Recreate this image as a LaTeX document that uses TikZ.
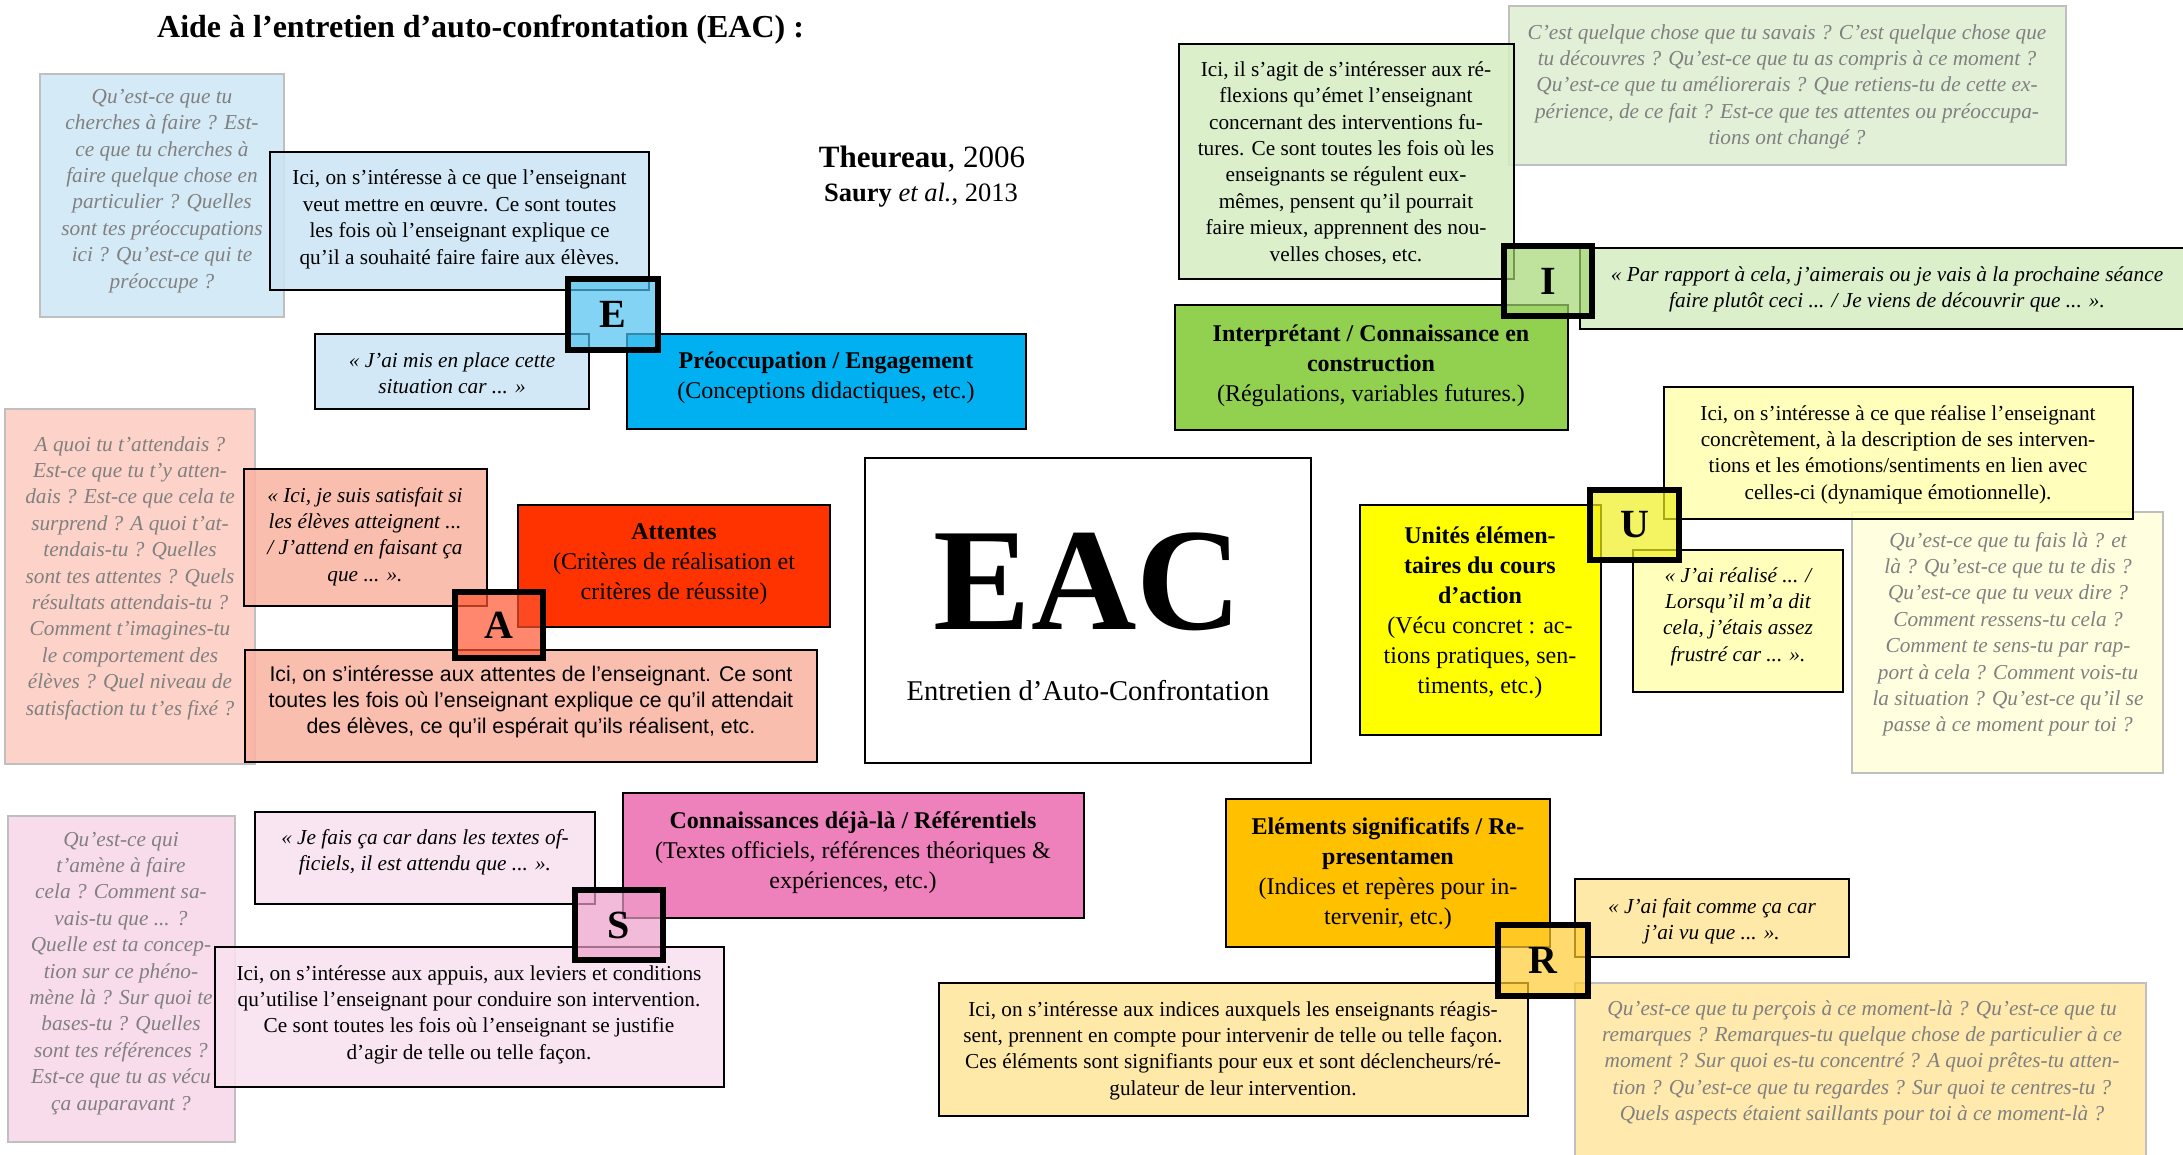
\documentclass[tikz,border=0pt]{standalone}
\usepackage{fontspec}
\setmainfont{Liberation Serif}
\newfontfamily\sansf{Liberation Sans}
\definecolor{eH}{HTML}{00B0F0}
\definecolor{eD}{HTML}{CCE4F5}
\definecolor{eQ}{HTML}{D5EAF7}
\definecolor{eS}{HTML}{4FC3F0}
\definecolor{iH}{HTML}{92D050}
\definecolor{iD}{HTML}{D5EDC2}
\definecolor{iQ}{HTML}{E2F0D8}
\definecolor{iS}{HTML}{A5D872}
\definecolor{uH}{HTML}{FFFF00}
\definecolor{uD}{HTML}{FFFFB0}
\definecolor{uQ}{HTML}{FFFFE0}
\definecolor{uS}{HTML}{F0F020}
\definecolor{aH}{HTML}{FF3300}
\definecolor{aD}{HTML}{FAB3A2}
\definecolor{aQ}{HTML}{FDD3C9}
\definecolor{aS}{HTML}{FF5530}
\definecolor{sH}{HTML}{EE80BB}
\definecolor{sD}{HTML}{F9E1EF}
\definecolor{sQ}{HTML}{F9DCEC}
\definecolor{sS}{HTML}{EE9FCB}
\definecolor{rH}{HTML}{FFC000}
\definecolor{rD}{HTML}{FFE699}
\definecolor{rQ}{HTML}{FFE9AD}
\definecolor{rS}{HTML}{FFCC33}
\definecolor{qline}{HTML}{BFBFBF}
\definecolor{qgray}{HTML}{808080}
\tikzset{
  rect/.style={anchor=north west, inner sep=0pt, outer sep=0pt},
  bbox/.style={rect, draw=black, line width=2.2pt},
  qbox/.style={rect, draw=qline, line width=1.5pt},
  tbox/.style={rect, draw=black, line width=2.2pt, fill opacity=0.85},
  sqbox/.style={rect, draw=black, line width=6pt, fill opacity=0.7},
  txt/.style={anchor=base, align=center, inner sep=0pt, yshift=-2pt, font=\fontsize{21.3}{26.4}\selectfont},
  qtxt/.style={txt, text=qgray, font=\fontsize{21.3}{26.4}\selectfont\itshape},
  itxt/.style={txt, font=\fontsize{21.3}{26.4}\selectfont\itshape},
  htxt/.style={txt, font=\fontsize{24}{30}\selectfont},
  letter/.style={inner sep=0pt, font=\fontsize{40}{40}\selectfont\bfseries},
}
\begin{document}
\begin{tikzpicture}[x=1pt,y=-1pt]
\useasboundingbox (0,0) rectangle (2183,1154);
\fill[white] (0,0) rectangle (2183,1154);

% title (anchor=base of a multi-line node = baseline of its last line)
\node[anchor=base west, inner sep=0pt, font=\fontsize{32}{36}\selectfont\bfseries] (title) at (157,37) {Aide à l’entretien d’auto-confrontation (EAC) :};
\node[anchor=base, inner sep=0pt, font=\fontsize{31}{36}\selectfont] (ref1) at (922,167) {\textbf{Theureau}, 2006};
\node[anchor=base, inner sep=0pt, font=\fontsize{26.5}{30}\selectfont] (ref2) at (921,201) {\textbf{Saury} \textit{et al.}, 2013};

% ===== E =====
\node[qbox, fill=eQ, minimum width=244pt, minimum height=243pt] (Eq) at (40,74) {};
\node[qtxt] (Eqt) at (162,286) {Qu’est-ce que tu\\cherches à faire ? Est-\\ce que tu cherches à\\faire quelque chose en\\particulier ? Quelles\\sont tes préoccupations\\ici ? Qu’est-ce qui te\\préoccupe ?};
\node[bbox, fill=eH, minimum width=399pt, minimum height=95pt] (Eh) at (627,334) {};
\node[htxt] (Eht) at (826,396) {\textbf{Préoccupation / Engagement}\\(Conceptions didactiques, etc.)};
\node[tbox, fill=eD, minimum width=274pt, minimum height=75pt] (Eqo) at (315,334) {};
\node[itxt] (Eqot) at (452,391.4) {« J’ai mis en place cette\\situation car ... »};
\node[tbox, fill=eD, minimum width=379pt, minimum height=138pt] (Ed) at (270,152) {};
\node[txt] (Edt) at (459.5,262) {Ici, on s’intéresse à ce que l’enseignant\\veut mettre en œuvre. Ce sont toutes\\les fois où l’enseignant explique ce\\qu’il a souhaité faire faire aux élèves.};

% ===== I =====
\node[qbox, fill=iQ, minimum width=557pt, minimum height=159pt] (Iq) at (1509,6) {};
\node[qtxt] (Iqt) at (1787,142.6) {C’est quelque chose que tu savais ? C’est quelque chose que\\tu découvres ? Qu’est-ce que tu as compris à ce moment ?\\Qu’est-ce que tu améliorerais ? Que retiens-tu de cette ex-\\périence, de ce fait ? Est-ce que tes attentes ou préoccupa-\\tions ont changé ?};
\node[bbox, fill=iH, minimum width=393pt, minimum height=125pt] (Ih) at (1175,305) {};
\node[htxt] (Iht) at (1371,399) {\textbf{Interprétant / Connaissance en}\\\textbf{construction}\\(Régulations, variables futures.)};
\node[tbox, fill=iD, minimum width=620pt, minimum height=81pt] (Iqo) at (1580,248) {};
\node[itxt] (Iqot) at (1887,305.4) {« Par rapport à cela, j’aimerais ou je vais à la prochaine séance\\faire plutôt ceci ... / Je viens de découvrir que ... ».};
\node[tbox, fill=iD, minimum width=335pt, minimum height=235pt] (Id) at (1179,44) {};
\node[txt] (Idt) at (1346,259) {Ici, il s’agit de s’intéresser aux ré-\\flexions qu’émet l’enseignant\\concernant des interventions fu-\\tures. Ce sont toutes les fois où les\\enseignants se régulent eux-\\mêmes, pensent qu’il pourrait\\faire mieux, apprennent des nou-\\velles choses, etc.};

% ===== U =====
\node[qbox, fill=uQ, minimum width=311pt, minimum height=261pt] (Uq) at (1852,512) {};
\node[qtxt] (Uqt) at (2008,729.8) {Qu’est-ce que tu fais là ? et\\là ? Qu’est-ce que tu te dis ?\\Qu’est-ce que tu veux dire ?\\Comment ressens-tu cela ?\\Comment te sens-tu par rap-\\port à cela ? Comment vois-tu\\la situation ? Qu’est-ce qu’il se\\passe à ce moment pour toi ?};
\node[bbox, fill=uH, minimum width=241pt, minimum height=230pt] (Uh) at (1360,505) {};
\node[htxt] (Uht) at (1480,691) {\textbf{Unités élémen-}\\\textbf{taires du cours}\\\textbf{d’action}\\(Vécu concret : ac-\\tions pratiques, sen-\\timents, etc.)};
\node[tbox, fill=uD, minimum width=210pt, minimum height=142pt] (Uqo) at (1633,550) {};
\node[itxt] (Uqot) at (1738,659.2) {« J’ai réalisé ... /\\Lorsqu’il m’a dit\\cela, j’étais assez\\frustré car ... ».};
\node[tbox, fill=uD, minimum width=469pt, minimum height=132pt] (Ud) at (1664,387) {};
\node[txt] (Udt) at (1898,497.2) {Ici, on s’intéresse à ce que réalise l’enseignant\\concrètement, à la description de ses interven-\\tions et les émotions/sentiments en lien avec\\celles-ci (dynamique émotionnelle).};

% ===== EAC =====
\node[rect, draw=black, line width=2.5pt, fill=white, minimum width=446pt, minimum height=305pt] (EAC) at (865,458) {};
\node[anchor=base, inner sep=0pt, font=\fontsize{146}{150}\selectfont\bfseries] (EACt) at (1088,629) {EAC};
\node[anchor=base, inner sep=0pt, font=\fontsize{28.6}{32}\selectfont] (EACs) at (1088,700) {Entretien d’Auto-Confrontation};

% ===== A =====
\node[qbox, fill=aQ, minimum width=250pt, minimum height=355pt] (Aq) at (5,409) {};
\node[qtxt] (Aqt) at (130,713) {A quoi tu t’attendais ?\\Est-ce que tu t’y atten-\\dais ? Est-ce que cela te\\surprend ? A quoi t’at-\\tendais-tu ? Quelles\\sont tes attentes ? Quels\\résultats attendais-tu ?\\Comment t’imagines-tu\\le comportement des\\élèves ? Quel niveau de\\satisfaction tu t’es fixé ?};
\node[bbox, fill=aH, minimum width=312pt, minimum height=122pt] (Ah) at (518,505) {};
\node[htxt] (Aht) at (674,597) {\textbf{Attentes}\\(Critères de réalisation et\\critères de réussite)};
\node[tbox, fill=aD, minimum width=243pt, minimum height=137pt] (Aqo) at (244,469) {};
\node[itxt] (Aqot) at (365,579.2) {« Ici, je suis satisfait si\\les élèves atteignent ...\\/ J’attend en faisant ça\\que ... ».};
\node[tbox, fill=aD, minimum width=572pt, minimum height=112pt] (Ad) at (245,650) {};
\node[txt, font=\fontsize{21.3}{26.4}\sansf] (Adt) at (531,731.8) {Ici, on s’intéresse aux attentes de l’enseignant. Ce sont\\toutes les fois où l’enseignant explique ce qu’il attendait\\des élèves, ce qu’il espérait qu’ils réalisent, etc.};

% ===== S =====
\node[qbox, fill=sQ, minimum width=227pt, minimum height=326pt] (Sq) at (8,816) {};
\node[qtxt] (Sqt) at (121,1108) {Qu’est-ce qui\\t’amène à faire\\cela ? Comment sa-\\vais-tu que ... ?\\Quelle est ta concep-\\tion sur ce phéno-\\mène là ? Sur quoi te\\bases-tu ? Quelles\\sont tes références ?\\Est-ce que tu as vécu\\ça auparavant ?};
\node[bbox, fill=sH, minimum width=461pt, minimum height=125pt] (Sh) at (623,793) {};
\node[htxt] (Sht) at (853,886) {\textbf{Connaissances déjà-là / Référentiels}\\(Textes officiels, références théoriques \&\\expériences, etc.)};
\node[tbox, fill=sD, minimum width=340pt, minimum height=92pt] (Sqo) at (255,812) {};
\node[itxt] (Sqot) at (425,868.4) {« Je fais ça car dans les textes of-\\ficiels, il est attendu que ... ».};
\node[tbox, fill=sD, minimum width=509pt, minimum height=140pt] (Sd) at (215,947) {};
\node[txt] (Sdt) at (469,1057.2) {Ici, on s’intéresse aux appuis, aux leviers et conditions\\qu’utilise l’enseignant pour conduire son intervention.\\Ce sont toutes les fois où l’enseignant se justifie\\d’agir de telle ou telle façon.};

% ===== R =====
\node[qbox, fill=rQ, minimum width=571pt, minimum height=182pt] (Rq) at (1575,983) {};
\node[qtxt] (Rqt) at (1862,1118.6) {Qu’est-ce que tu perçois à ce moment-là ? Qu’est-ce que tu\\remarques ? Remarques-tu quelque chose de particulier à ce\\moment ? Sur quoi es-tu concentré ? A quoi prêtes-tu atten-\\tion ? Qu’est-ce que tu regardes ? Sur quoi te centres-tu ?\\Quels aspects étaient saillants pour toi à ce moment-là ?};
\node[bbox, fill=rH, minimum width=324pt, minimum height=148pt] (Rh) at (1226,799) {};
\node[htxt] (Rht) at (1388,922) {\textbf{Eléments significatifs / Re-}\\\textbf{presentamen}\\(Indices et repères pour in-\\tervenir, etc.)};
\node[tbox, fill=rD, minimum width=274pt, minimum height=78pt] (Rqo) at (1575,879) {};
\node[itxt] (Rqot) at (1712,937.4) {« J’ai fait comme ça car\\j’ai vu que ... ».};
\node[tbox, fill=rD, minimum width=589pt, minimum height=133pt] (Rd) at (939,983) {};
\node[txt] (Rdt) at (1233,1093.2) {Ici, on s’intéresse aux indices auxquels les enseignants réagis-\\sent, prennent en compte pour intervenir de telle ou telle façon.\\Ces éléments sont signifiants pour eux et sont déclencheurs/ré-\\gulateur de leur intervention.};

% ===== squares =====
\node[sqbox, fill=eS, minimum width=90pt, minimum height=71pt] (Esq) at (568,279) {};
\node[letter] at (Esq.center) {E};
\node[sqbox, fill=iS, minimum width=88pt, minimum height=70pt] (Isq) at (1504,246) {};
\node[letter] at (Isq.center) {I};
\node[sqbox, fill=uS, minimum width=89pt, minimum height=70pt] (Usq) at (1590,490) {};
\node[letter] at (Usq.center) {U};
\node[sqbox, fill=aS, minimum width=88pt, minimum height=66pt] (Asq) at (455,592) {};
\node[letter] at (Asq.center) {A};
\node[sqbox, fill=sS, minimum width=88pt, minimum height=70pt] (Ssq) at (575,890) {};
\node[letter] at (Ssq.center) {S};
\node[sqbox, fill=rS, minimum width=90pt, minimum height=71pt] (Rsq) at (1498,925) {};
\node[letter] at (Rsq.center) {R};
\end{tikzpicture}
\end{document}
